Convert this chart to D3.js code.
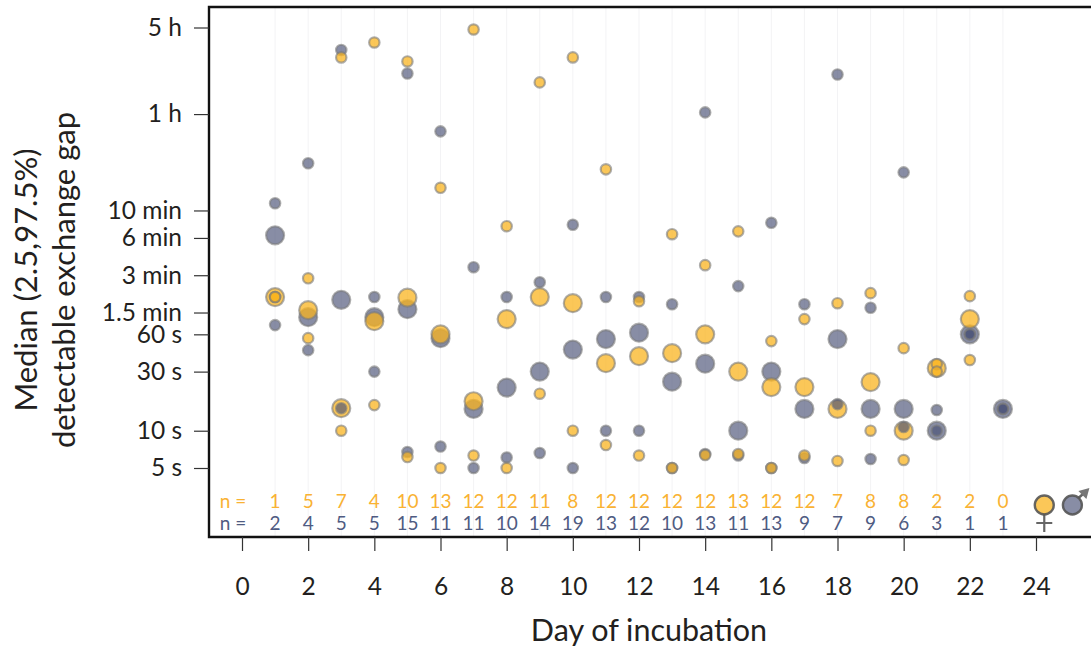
<!DOCTYPE html>
<html><head><meta charset="utf-8">
<script src="https://cdn.jsdelivr.net/npm/d3@7"></script>
<style>html,body{margin:0;padding:0;background:#fff}svg{display:block}text{font-family:Lato,sans-serif}</style>
</head><body><svg id="c" width="1091" height="650"></svg>
<script>
const days=[1,2,3,4,5,6,7,8,9,10,11,12,13,14,15,16,17,18,19,20,21,22,23];
const femaleN=[1,5,7,4,10,13,12,12,11,8,12,12,12,12,13,12,12,7,8,8,2,2,0];
const maleN=[2,4,5,5,15,11,11,10,14,19,13,12,10,13,11,13,9,7,9,6,3,1,1];
// seconds; null = no data
const femaleMid=[120,94,15.2,76.6,118.6,60,17.3,79.6,120,107,35.1,40,42.3,60,30,22.5,22.5,15,24.7,10,32,79.6,null];
const femaleHigh=[120,170,10320,13620,9580,914,17350,448,6488,10320,1289,111,386,217,407,52.9,79.6,107,129,46.4,34.5,122,null];
const femaleLow=[120,55.9,10,16.1,6.13,5,6.3,5,19.9,10,7.66,6.3,5,6.36,6.48,5,6.3,5.7,10,5.8,30,37.2,null];
const maleMid=[378,82.5,114,82.5,95.8,55.9,15,22.3,30,45.2,54.9,61.9,24.9,34.8,10,30,15,54.9,15,15,10,60,15];
const maleHigh=[686,1442,11860,120,7660,2611,209,120,158,460,120,120,105,3715,147,477,105,7520,98.4,1219,14.7,60,15];
const maleLow=[71.2,44.7,15.2,30,6.73,7.45,5,6.08,6.61,5,10,10,5,6.48,6.3,5,6.02,16.4,5.91,10.7,10,60,15];
const xTicks=[0,2,4,6,8,10,12,14,16,18,20,22,24];
const yTicks=[5,10,30,60,90,180,360,600,3600,18000];
const yLabels=["5 s","10 s","30 s","60 s","1.5 min","3 min","6 min","10 min","1 h","5 h"];
const legendDays=[24.25,25.1];

const x=d3.scaleLinear().domain([0,24]).range([242,1036]);
const y=d3.scaleLog().domain([5,18000]).range([468,27.5]);
const svg=d3.select("#c");
const W=1091,T=7,B=537,L=209;
const INK="#231f20",YEL="#f9b233",BLU="#4f5b82";

svg.append("g").selectAll("line").data(days).join("line")
  .attr("x1",d=>x(d)).attr("x2",d=>x(d)).attr("y1",T).attr("y2",B)
  .attr("stroke","#f3f3f5").attr("stroke-width",1);

function dots(vals,r,fill,op){
  svg.append("g").selectAll("circle")
    .data(days.map((d,i)=>[d,vals[i]]).filter(d=>d[1]!=null)).join("circle")
    .attr("cx",d=>x(d[0])).attr("cy",d=>y(d[1])).attr("r",r)
    .attr("fill",fill).attr("fill-opacity",op)
    .attr("stroke","#7a7a7a").attr("stroke-opacity",.6).attr("stroke-width",2.2);
}
const GR="#4a5276",OR="#f9b41e";
dots(maleMid,9,GR,.66);
dots(femaleMid,9,OR,.74);
dots(maleHigh,5.2,GR,.66);
dots(maleLow,5.2,GR,.66);
dots(femaleHigh,5.2,OR,.74);
dots(femaleLow,5.2,OR,.74);

// frame
svg.append("path").attr("d",`M${W},${T}H${L}V${B}H${W}`).attr("fill","none").attr("stroke","#111").attr("stroke-width",2.4);

// axes
const gx=svg.append("g").attr("transform",`translate(0,${B})`)
  .call(d3.axisBottom(x).tickValues(xTicks).tickFormat(d3.format("d")).tickSize(14).tickPadding(27));
const gy=svg.append("g").attr("transform",`translate(${L},0)`)
  .call(d3.axisLeft(y).tickValues(yTicks).tickFormat((d,i)=>yLabels[i]).tickSize(15).tickPadding(12));
[gx,gy].forEach(g=>{
  g.select(".domain").remove();
  g.selectAll("line").attr("stroke","#333").attr("stroke-width",1.2);
  g.selectAll("text").attr("fill",INK).style("font-size","24.5px").style("font-family","Lato,sans-serif");
});

// n rows
function nRow(vals,rowY,col){
  const g=svg.append("g").attr("fill",col).style("font-size","19px").attr("text-anchor","middle");
  g.append("text").attr("x",233).attr("y",rowY).text("n =");
  g.selectAll(".v").data(days.map((d,i)=>[d,vals[i]])).join("text").attr("class","v")
    .attr("x",d=>x(d[0])).attr("y",rowY).text(d=>d[1]);
}
nRow(femaleN,508,YEL);
nRow(maleN,530,BLU);

// titles
svg.append("text").attr("x",649).attr("y",641).attr("text-anchor","middle")
  .attr("fill",INK).style("font-size","30.5px").text("Day of incubation");
[["Median (2.5,97.5%)",37],["detectable exchange gap",75]].forEach(([s,px])=>{
  svg.append("text").attr("transform",`translate(${px},280) rotate(-90)`).attr("text-anchor","middle")
    .attr("fill",INK).style("font-size","31px").text(s);
});

// sex legend
const lg=svg.append("g");
const fx=x(legendDays[0]),mx=x(legendDays[1]),ly=505;
lg.append("path").attr("d",`M${fx},${ly+8}V532M${fx-8},523H${fx+8}`).attr("stroke","#666").attr("stroke-width",2.2).attr("fill","none");
lg.append("path").attr("d",`M${mx+6},${ly-7}L${mx+13},${ly-13}`).attr("stroke","#666").attr("stroke-width",2.5);
lg.append("path").attr("d",`M${mx+17},${ly-17}L${mx+6},${ly-14}L${mx+14},${ly-6}Z`).attr("fill","#777");
lg.append("circle").attr("cx",fx).attr("cy",ly).attr("r",9.5).attr("fill",OR).attr("fill-opacity",.74).attr("stroke","#555").attr("stroke-opacity",.9).attr("stroke-width",2.4);
lg.append("circle").attr("cx",mx).attr("cy",ly).attr("r",9.5).attr("fill",GR).attr("fill-opacity",.66).attr("stroke","#555").attr("stroke-opacity",.9).attr("stroke-width",2.4);
</script></body></html>
